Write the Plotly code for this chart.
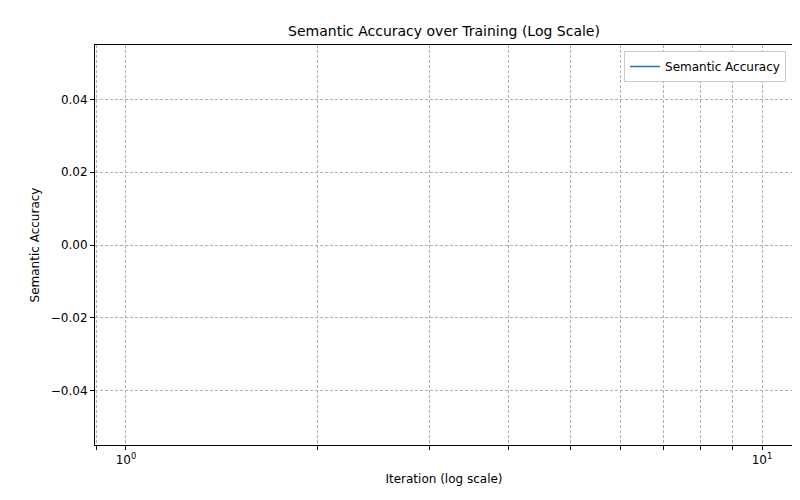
import plotly.graph_objects as go

# data: the reference chart holds no points
iterations = []
semantic_acc = []

x_ticks = [0.9, 1, 2, 3, 4, 5, 6, 7, 8, 9, 10]
x_labels = ["", "10<sup>0</sup>", "", "", "", "", "", "", "", "", "10<sup>1</sup>"]
y_ticks = [-0.04, -0.02, 0.0, 0.02, 0.04]
y_labels = ["\u22120.04", "\u22120.02", "0.00", "0.02", "0.04"]

fig = go.Figure()
fig.add_trace(go.Scatter(
    x=iterations if iterations else [None],
    y=semantic_acc if semantic_acc else [None],
    mode="lines", name="Semantic Accuracy",
    line=dict(color="#1f77b4", width=1.5),
    showlegend=True,
))

axis_common = dict(
    showline=True, linecolor="black", linewidth=1, mirror=True,
    ticks="outside", ticklen=4, tickcolor="black",
    showgrid=True, gridcolor="#b0b0b0", griddash="3px,2px", gridwidth=0.8,
    zeroline=False, automargin=False,
)
fig.update_xaxes(type="log", range=[-0.0487, 1.0487],
                 tickvals=x_ticks, ticktext=x_labels,
                 title=dict(text="Iteration (log scale)", standoff=8, font=dict(size=12)),
                 **axis_common)
fig.update_yaxes(range=[-0.055, 0.055], tickvals=y_ticks, ticktext=y_labels,
                 title=dict(text="Semantic Accuracy", standoff=8, font=dict(size=12)),
                 **axis_common)

fig.update_layout(
    width=800, height=500,
    margin=dict(l=87, r=15, t=37, b=63, autoexpand=False),
    plot_bgcolor="white", paper_bgcolor="white",
    font=dict(family="DejaVu Sans", size=12, color="black"),
    title=dict(text="Semantic Accuracy over Training (Log Scale)",
               x=0.5, xanchor="center", xref="paper",
               yref="container", y=0.954, yanchor="middle",
               font=dict(size=14), automargin=False),
    legend=dict(x=0.99, y=0.985, xanchor="right", yanchor="top",
                bordercolor="#cccccc", borderwidth=1, bgcolor="white"),
)

fig.write_html("out.html")
